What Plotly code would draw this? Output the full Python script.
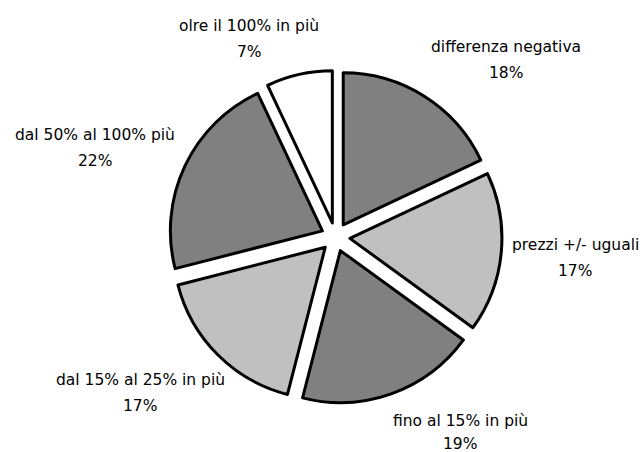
import plotly.graph_objects as go

labels = ["differenza negativa", "prezzi +/- uguali", "fino al 15% in più",
          "dal 15% al 25% in più", "dal 50% al 100% più", "olre il 100% in più"]
values = [18, 17, 19, 17, 22, 7]
colors = ["#808080", "#c0c0c0", "#808080", "#c0c0c0", "#808080", "#ffffff"]

W, H = 643, 452
# label centers in pixels (x, y of first line, gap to second line)
label_px = [(506, 47, 26), (575, 245, 26), (460, 421, 23), (140, 380, 26), (95, 135, 26), (249, 26, 26)]

fig = go.Figure(go.Pie(
    labels=labels, values=values, sort=False, direction="clockwise", rotation=0,
    marker=dict(colors=colors, line=dict(color="black", width=3)),
    pull=[0.095] * len(values),
    textinfo="none", hoverinfo="label+percent",
    domain=dict(x=[0.2628, 0.7807], y=[0.1073, 0.844]),
    showlegend=False,
))

total = sum(values)
font = dict(family="DejaVu Sans, Verdana, sans-serif", size=15.5, color="#000")
for lab, val, (px, py, gap) in zip(labels, values, label_px):
    for txt, yy in ((lab, py), (f"{round(100*val/total)}%", py + gap)):
        fig.add_annotation(x=px / W, y=1 - yy / H, xref="paper", yref="paper",
                           xanchor="center", yanchor="middle",
                           text=txt, showarrow=False, font=font)

fig.update_layout(width=W, height=H, margin=dict(l=0, r=0, t=0, b=0),
                  paper_bgcolor="white", plot_bgcolor="white")
fig.write_html("out.html")
